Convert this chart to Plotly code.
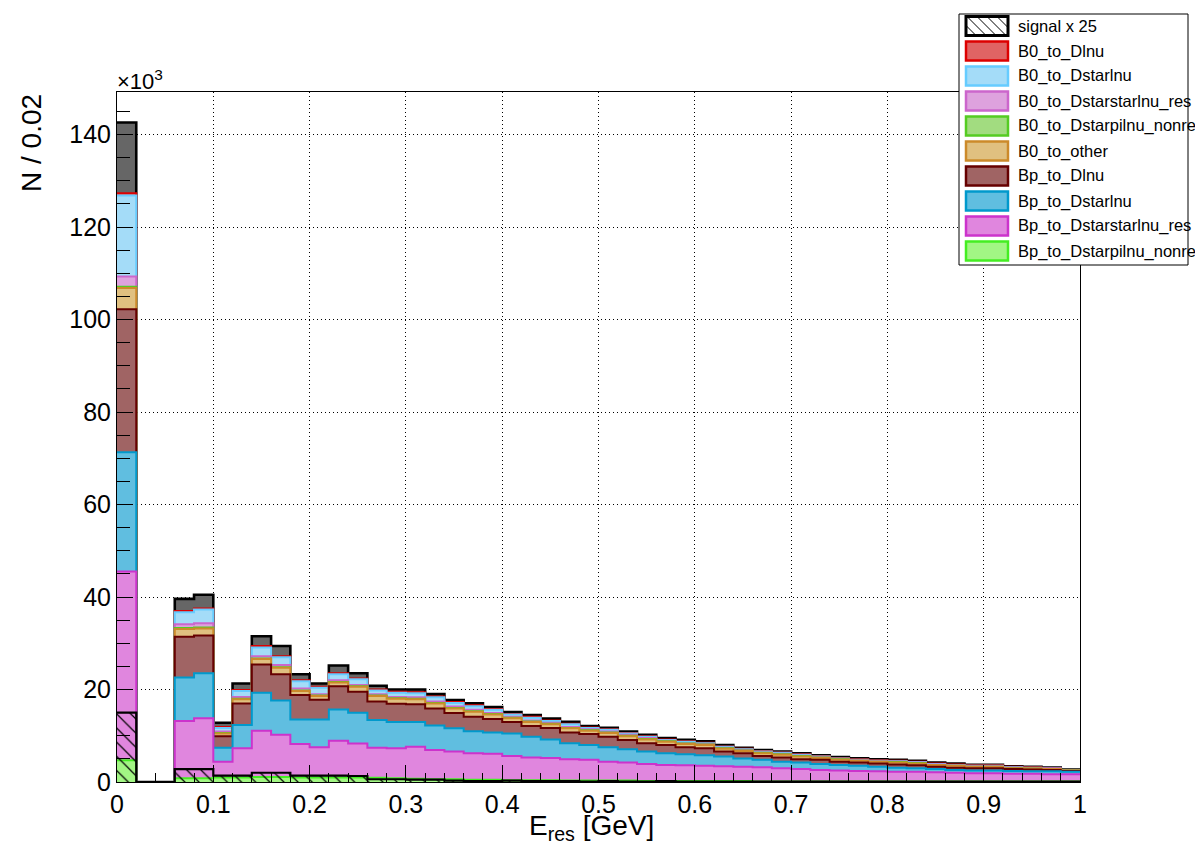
import numpy as np
import plotly.graph_objects as go

# ---------------- data (units of 10^3 entries per 0.02 GeV bin) ----------------
bin_edges = [round(i * 0.02, 2) for i in range(51)]   # 50 bins from 0 to 1 GeV

signal_x25 = [15.0, 0.0, 0.0, 2.8, 2.8, 1.4, 1.4, 2.0, 2.0, 1.4,
              1.4, 1.4, 1.3, 0.6, 0.6, 0.5, 0.5, 0.3, 0.2, 0.2,
              0.3, 0.2, 0.2, 0.2, 0.1, 0.2, 0.1, 0.1, 0.2, 0.1,
              0.1, 0.1, 0.1, 0.1, 0.1, 0.1, 0.1, 0.1, 0.1, 0.1,
              0.1, 0.1, 0.1, 0.1, 0.1, 0.1, 0.1, 0.1, 0.1, 0.1]

Bp_to_Dstarpilnu_nonres = [4.7, 0.0, 0.0, 0.8, 0.8, 1.0, 1.0, 1.1, 1.1, 1.0,
                           1.0, 1.0, 1.0, 0.9, 0.8, 0.7, 0.6, 0.6, 0.5, 0.5,
                           0.4, 0.4, 0.4, 0.3, 0.3, 0.3, 0.3, 0.2, 0.2, 0.2,
                           0.2, 0.2, 0.2, 0.1, 0.1, 0.1, 0.1, 0.1, 0.1, 0.1,
                           0.1, 0.1, 0.1, 0.1, 0.1, 0.1, 0.1, 0.1, 0.1, 0.1]

Bp_to_Dstarstarlnu_res = [40.8, 0.0, 0.0, 12.4, 13.0, 3.4, 6.3, 10.0, 9.1, 7.2,
                          6.5, 7.9, 7.3, 6.5, 6.5, 6.9, 6.3, 6.0, 5.7, 5.6,
                          5.2, 4.9, 4.8, 4.6, 4.5, 4.1, 3.9, 3.7, 3.5, 3.4,
                          3.3, 3.2, 3.1, 3.1, 2.9, 2.7, 2.5, 2.4, 2.3, 2.2,
                          2.1, 2.1, 2.0, 1.9, 1.8, 1.8, 1.7, 1.7, 1.6, 1.6]

Bp_to_Dstarlnu = [25.8, 0.0, 0.0, 9.4, 9.7, 3.0, 5.0, 8.2, 7.4, 5.3,
                  6.0, 6.8, 6.7, 6.0, 5.7, 5.4, 5.3, 5.0, 4.8, 4.6,
                  4.9, 4.5, 4.0, 3.5, 3.2, 3.1, 2.9, 2.7, 2.5, 2.4,
                  2.3, 2.1, 1.8, 1.6, 1.4, 1.4, 1.3, 1.2, 1.1, 1.0,
                  0.9, 0.8, 0.7, 0.6, 0.6, 0.6, 0.6, 0.5, 0.6, 0.5]

Bp_to_Dlnu = [30.9, 0.0, 0.0, 8.8, 8.2, 2.5, 4.7, 6.1, 5.7, 5.3,
              4.3, 5.0, 4.5, 4.0, 3.9, 3.8, 3.7, 3.3, 3.1, 2.9,
              2.5, 2.3, 2.5, 2.3, 2.4, 2.3, 2.0, 1.8, 1.8, 1.5,
              1.5, 1.1, 1.1, 0.8, 0.9, 0.7, 0.9, 0.7, 0.7, 0.7,
              0.7, 0.6, 0.5, 0.5, 0.5, 0.5, 0.4, 0.4, 0.3, 0.2]

B0_to_other = [4.6, 0.0, 0.0, 1.7, 1.5, 0.6, 0.9, 1.2, 1.4, 0.9,
               0.8, 0.8, 1.1, 1.2, 1.1, 1.1, 1.1, 1.0, 1.1, 1.0,
               0.8, 0.9, 0.8, 0.9, 0.7, 0.8, 0.8, 0.8, 0.7, 0.7,
               0.7, 0.6, 0.5, 0.6, 0.6, 0.6, 0.4, 0.4, 0.4, 0.4,
               0.4, 0.4, 0.4, 0.4, 0.3, 0.3, 0.2, 0.2, 0.2, 0.1]

B0_to_Dstarpilnu_nonres = [0.3, 0.0, 0.0, 0.2, 0.2, 0.1, 0.1, 0.1, 0.1, 0.1,
                           0.1, 0.1, 0.1, 0.1, 0.1, 0.1, 0.1, 0.1, 0.1, 0.1,
                           0.1, 0.1, 0.1, 0.1, 0.1, 0.1, 0.1, 0.1, 0.1, 0.1,
                           0.1, 0.1, 0.1, 0.1, 0.1, 0.1, 0.1, 0.1, 0.0, 0.0,
                           0.1, 0.1, 0.0, 0.0, 0.0, 0.0, 0.0, 0.0, 0.0, 0.0]

B0_to_Dstarstarlnu_res = [2.2, 0.0, 0.0, 0.8, 0.9, 0.3, 0.4, 0.5, 0.5, 0.4,
                          0.3, 0.4, 0.3, 0.3, 0.3, 0.3, 0.3, 0.3, 0.3, 0.2,
                          0.2, 0.2, 0.2, 0.2, 0.2, 0.2, 0.2, 0.2, 0.1, 0.1,
                          0.1, 0.1, 0.1, 0.1, 0.1, 0.1, 0.1, 0.1, 0.1, 0.1,
                          0.1, 0.1, 0.1, 0.1, 0.1, 0.1, 0.1, 0.1, 0.1, 0.0]

B0_to_Dstarlnu = [17.5, 0.0, 0.0, 2.6, 3.0, 0.8, 1.3, 1.9, 1.7, 1.6,
                  1.4, 1.3, 1.2, 0.8, 0.9, 0.9, 0.9, 0.8, 0.8, 0.7,
                  0.5, 0.6, 0.4, 0.6, 0.3, 0.4, 0.3, 0.3, 0.2, 0.3,
                  0.2, 0.2, 0.2, 0.2, 0.2, 0.2, 0.1, 0.1, 0.1, 0.1,
                  0.1, 0.1, 0.1, 0.1, 0.1, 0.1, 0.1, 0.1, 0.0, 0.0]

B0_to_Dlnu = [0.5, 0.0, 0.0, 0.3, 0.2, 0.2, 0.2, 0.3, 0.2, 0.2,
              0.2, 0.2, 0.2, 0.2, 0.2, 0.2, 0.2, 0.2, 0.2, 0.2,
              0.1, 0.2, 0.1, 0.1, 0.1, 0.1, 0.1, 0.1, 0.1, 0.1,
              0.1, 0.1, 0.1, 0.1, 0.1, 0.1, 0.1, 0.1, 0.1, 0.1,
              0.1, 0.1, 0.1, 0.1, 0.1, 0.1, 0.1, 0.1, 0.1, 0.1]

# dark grey top component (not listed in the legend)
unlabelled_top = [15.3, 0.0, 0.0, 2.6, 3.0, 0.9, 1.4, 2.1, 2.2, 1.3,
                  0.7, 1.7, 1.1, 0.8, 0.5, 0.6, 0.5, 0.4, 0.4, 0.4,
                  0.4, 0.4, 0.4, 0.4, 0.3, 0.3, 0.3, 0.3, 0.3, 0.3,
                  0.3, 0.3, 0.2, 0.2, 0.2, 0.2, 0.2, 0.2, 0.2, 0.2,
                  0.2, 0.2, 0.2, 0.2, 0.1, 0.1, 0.1, 0.1, 0.1, 0.1]

# (name, values, fill colour, line colour, in legend)   bottom -> top
stack = [
    ("Bp_to_Dstarpilnu_nonres", Bp_to_Dstarpilnu_nonres, "#a2f684", "#44ee22", True),
    ("Bp_to_Dstarstarlnu_res", Bp_to_Dstarstarlnu_res, "#e086de", "#cc33cc", True),
    ("Bp_to_Dstarlnu", Bp_to_Dstarlnu, "#60bee0", "#0099cc", True),
    ("Bp_to_Dlnu", Bp_to_Dlnu, "#a06464", "#660000", True),
    ("B0_to_other", B0_to_other, "#e0c080", "#cc8a2a", True),
    ("B0_to_Dstarpilnu_nonres", B0_to_Dstarpilnu_nonres, "#a2dc80", "#55cc22", True),
    ("B0_to_Dstarstarlnu_res", B0_to_Dstarstarlnu_res, "#dea2de", "#cc66cc", True),
    ("B0_to_Dstarlnu", B0_to_Dstarlnu, "#a4dcf8", "#66ccff", True),
    ("B0_to_Dlnu", B0_to_Dlnu, "#e06464", "#dd0000", True),
    ("unlabelled_top", unlabelled_top, "#666666", "#000000", False),
]

FONT = "Liberation Sans, Arial, Helvetica, sans-serif"

# ---------------- figure ----------------
fig = go.Figure()

cum = np.cumsum(np.array([s[1] for s in stack]), axis=0)

# ROOT draws a THStack from the top cumulative histogram down
for k in reversed(range(len(stack))):
    name, vals, fc, lc, _ = stack[k]
    y = list(cum[k]) + [cum[k][-1]]
    fig.add_trace(go.Scatter(
        x=bin_edges, y=y, mode="lines", line_shape="hv",
        line=dict(color=lc, width=2.6 if k == len(stack) - 1 else 2),
        fill="tozeroy", fillcolor=fc, name=name, showlegend=False,
        hoverinfo="skip"))

# signal x 25 overlay (hatched)
fig.add_trace(go.Scatter(
    x=bin_edges, y=signal_x25 + [signal_x25[-1]], mode="lines", line_shape="hv",
    line=dict(color="black", width=2.2),
    fill="tozeroy", fillcolor="rgba(0,0,0,0)",
    fillpattern=dict(shape="\\", fgcolor="black", bgcolor="rgba(0,0,0,0)",
                     size=10, solidity=0.12, fillmode="replace"),
    name="signal x 25", showlegend=False, hoverinfo="skip"))

# ---------------- layout ----------------
# the page body has an 8 px margin, so the figure is offset by 8 px
OFF = 8
W, H = 1203 - OFF, 845 - OFF
L, R, T, B = 117 - OFF, 123, 92 - OFF, 63
PW, PH = W - L - R, H - T - B


def px_x(px):
    """page pixel x -> paper coordinate"""
    return (px - OFF - L) / PW


def px_y(py):
    """page pixel y -> paper coordinate"""
    return (H - B - (py - OFF)) / PH


fig.update_layout(
    width=W, height=H,
    margin=dict(l=L, r=R, t=T, b=B),
    paper_bgcolor="white", plot_bgcolor="white",
    font=dict(family=FONT, color="black"),
    showlegend=False,
)

fig.update_xaxes(
    range=[0, 1],
    tickvals=[round(0.1 * i, 1) for i in range(11)],
    ticktext=["0", "0.1", "0.2", "0.3", "0.4", "0.5", "0.6", "0.7", "0.8", "0.9", "1"],
    ticks="inside", ticklen=17, tickwidth=1, tickcolor="black",
    minor=dict(dtick=0.02, tick0=0, ticks="inside", ticklen=9, tickwidth=1,
               tickcolor="black", showgrid=False),
    showgrid=True, gridcolor="black", gridwidth=1, griddash="1px,3px",
    showline=True, linecolor="black", linewidth=1, mirror=True,
    tickfont=dict(size=25, family=FONT, color="black"),
    zeroline=False, layer="above traces",
)

fig.update_yaxes(
    range=[0, 149.2],
    tickvals=[0, 20, 40, 60, 80, 100, 120, 140],
    ticktext=["0", "20", "40", "60", "80", "100", "120", "140"],
    ticks="inside", ticklen=16, tickwidth=1, tickcolor="black",
    minor=dict(dtick=5, tick0=0, ticks="inside", ticklen=13, tickwidth=1,
               tickcolor="black", showgrid=False),
    showgrid=True, gridcolor="black", gridwidth=1, griddash="1px,3px",
    showline=True, linecolor="black", linewidth=1, mirror=True,
    tickfont=dict(size=25, family=FONT, color="black"),
    zeroline=False, layer="above traces",
)

annotations = [
    dict(text="×10<sup>3</sup>", x=px_x(115), y=px_y(80), xref="paper", yref="paper",
         xanchor="left", yanchor="middle", showarrow=False,
         font=dict(size=22, family=FONT, color="black")),
    dict(text="N / 0.02", x=px_x(31), y=px_y(143), xref="paper", yref="paper",
         xanchor="center", yanchor="middle", textangle=-90, showarrow=False,
         font=dict(size=28, family=FONT, color="black")),
    dict(text="E<sub>res</sub> [GeV]", x=px_x(591), y=px_y(827), xref="paper", yref="paper",
         xanchor="center", yanchor="middle", showarrow=False,
         font=dict(size=28, family=FONT, color="black")),
]

shapes = []
# legend box
shapes.append(dict(type="rect", xref="paper", yref="paper",
                   x0=px_x(959), x1=px_x(1188), y0=px_y(265), y1=px_y(14),
                   fillcolor="white", line=dict(color="black", width=1), layer="above"))

legend_entries = [("signal x 25", "white", "black")] + \
    [(s[0], s[2], s[3]) for s in reversed(stack) if s[4]]

sx0, sx1 = 966, 1008
for i, (label, fc, lc) in enumerate(legend_entries):
    cy = 26 + 25.0 * i
    y0p, y1p = cy - 9.5, cy + 9.5
    shapes.append(dict(type="rect", xref="paper", yref="paper",
                       x0=px_x(sx0), x1=px_x(sx1), y0=px_y(y1p), y1=px_y(y0p),
                       fillcolor=fc, line=dict(color=lc, width=3 if i == 0 else 2.5),
                       layer="above"))
    if i == 0:
        h = y1p - y0p
        t = sx0 - h
        while t < sx1:
            s_lo = max(0.0, (sx0 - t) / h)
            s_hi = min(1.0, (sx1 - t) / h)
            if s_hi > s_lo:
                xa, ya = t + s_lo * h, y0p + s_lo * h
                xb, yb = t + s_hi * h, y0p + s_hi * h
                shapes.append(dict(type="line", xref="paper", yref="paper",
                                   x0=px_x(xa), y0=px_y(ya), x1=px_x(xb), y1=px_y(yb),
                                   line=dict(color="black", width=1), layer="above"))
            t += 10
    annotations.append(dict(text=label, x=px_x(1016), y=px_y(cy), xref="paper", yref="paper",
                            xanchor="left", yanchor="middle", showarrow=False,
                            font=dict(size=16.5, family=FONT, color="black")))

fig.update_layout(annotations=annotations, shapes=shapes)

fig.write_html("out.html")
